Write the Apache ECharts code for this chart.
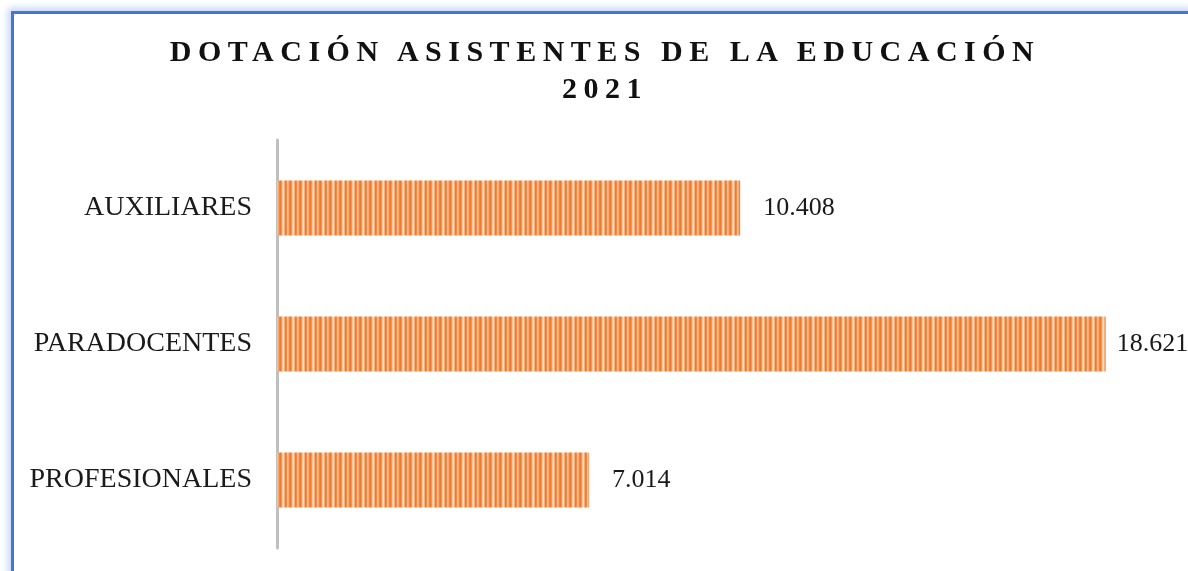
<!DOCTYPE html>
<html>
<head>
<meta charset="utf-8">
<script src="https://cdn.jsdelivr.net/npm/echarts@6/dist/echarts.min.js"></script>
<style>
html,body{margin:0;padding:0;background:#fff;overflow:hidden;}
#frame{position:absolute;left:11px;top:11px;width:1300px;height:700px;border:3px solid #4676CF;box-shadow:0 0 7px 3px #C5D6F4;box-sizing:border-box;}
#chart{position:absolute;left:0;top:0;width:1188px;height:571px;}
#title{position:absolute;left:0;top:32px;width:1210px;text-align:center;font-family:"Liberation Serif","DejaVu Serif",serif;font-weight:bold;font-size:30px;line-height:37px;letter-spacing:6.5px;color:#111;}
</style>
</head>
<body>
<div id="frame"></div>
<div id="chart"></div>
<div id="title">DOTACIÓN ASISTENTES DE LA EDUCACIÓN<br>2021</div>
<script>
const categories = ["PROFESIONALES", "PARADOCENTES", "AUXILIARES"];
const values = [7014, 18621, 10408];

function stripePattern(){
  const c = document.createElement('canvas');
  c.width = 10; c.height = 4;
  const ctx = c.getContext('2d');
  const cols = ['#EE7A2C','#F3955A','#F9C39C','#FCDCC4','#F6AE7C','#EE7A2C','#F08A44','#F8BE94','#F6AA76','#F08643'];
  cols.forEach((col,i)=>{ctx.fillStyle=col;ctx.fillRect(i,0,1,4);});
  return c;
}

const maxVal = Math.max(...values);
const chart = echarts.init(document.getElementById('chart'), null, {renderer:'canvas'});
chart.setOption({
  animation:false,
  grid:{left:277, top:140, width:890, height:408, containLabel:false},
  xAxis:{type:'value', min:0, max:20000, show:false},
  yAxis:{type:'category', data:categories,
    axisLine:{show:true, lineStyle:{color:'#BFBFBF', width:3}},
    axisTick:{show:false},
    axisLabel:{margin:25, fontFamily:'Liberation Serif', fontSize:28, color:'#1a1a1a'}
  },
  series:[{
    type:'bar', barWidth:55,
    data:values.map(v=>({value:v, label:{distance: v===maxVal ? 11 : 23}})),
    itemStyle:{color:{image:stripePattern(), repeat:'repeat'}},
    label:{show:true, position:'right', fontFamily:'Liberation Serif', fontSize:26, color:'#1a1a1a',
      formatter:p=>p.value.toLocaleString('de-DE')}
  }]
});
</script>
</body>
</html>
